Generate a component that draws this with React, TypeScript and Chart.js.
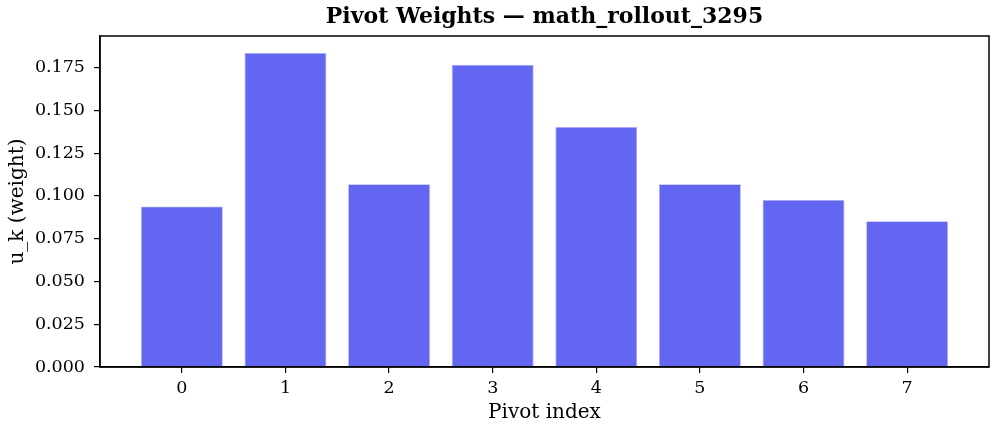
import React, { useEffect, useRef } from "react";
import { Chart, registerables } from "chart.js";

Chart.register(...registerables);

const pivotIndex: number[] = [0, 1, 2, 3, 4, 5, 6, 7];
const weights: number[] = [0.0939, 0.1835, 0.1068, 0.1767, 0.1403, 0.1068, 0.0976, 0.0852];
const yTicks: number[] = [0, 0.025, 0.05, 0.075, 0.1, 0.125, 0.15, 0.175];
const chartTitle = "Pivot Weights — math_rollout_3295";

const FONT = "'DejaVu Serif', serif";

const frame = {
  id: "frame",
  afterDatasetsDraw(chart: any) {
    const { ctx, chartArea } = chart;
    ctx.save();
    ctx.strokeStyle = "#000";
    ctx.lineWidth = 1.5;
    ctx.strokeRect(chartArea.left, chartArea.top, chartArea.right - chartArea.left, chartArea.bottom - chartArea.top);
    ctx.restore();
  },
  afterDraw(chart: any) {
    const { ctx, chartArea } = chart;
    ctx.save();
    ctx.fillStyle = "#000";
    ctx.font = `bold 22px ${FONT}`;
    ctx.textAlign = "center";
    ctx.textBaseline = "middle";
    ctx.fillText(chartTitle, (chartArea.left + chartArea.right) / 2, 17.5);
    ctx.restore();
  },
};

export default function App() {
  const ref = useRef<HTMLCanvasElement | null>(null);
  useEffect(() => {
    if (!ref.current) return;
    const chart = new Chart(ref.current, {
      type: "bar",
      data: {
        datasets: [
          {
            data: pivotIndex.map((x, i) => ({ x, y: weights[i] })),
            backgroundColor: "#6366f1",
            borderColor: "rgba(170,172,248,1)",
            borderWidth: 0.8,
            barPercentage: 0.79,
            categoryPercentage: 1,
          },
        ],
      },
      options: {
        animation: false,
        responsive: false,
        maintainAspectRatio: false,
        layout: { padding: { left: 0, right: 8, top: 36, bottom: 0 } },
        plugins: {
          legend: { display: false },
          tooltip: { enabled: false },
          title: { display: false },
        },
        scales: {
          x: {
            type: "linear",
            offset: false,
            min: -0.79,
            max: 7.79,
            afterBuildTicks: (scale: any) => {
              scale.ticks = pivotIndex.map((v) => ({ value: v }));
            },
            afterFit: (scale: any) => {
              scale.height = 66;
            },
            ticks: {
              color: "#000",
              font: { family: FONT, size: 17.5 },
              padding: 5,
              maxRotation: 0,
              autoSkip: false,
              callback: (v: any) => String(v),
            },
            grid: { display: true, offset: false, drawOnChartArea: false, drawTicks: true, tickLength: 6, color: "#000", lineWidth: 1.2 },
            border: { display: true, color: "#000", width: 1.5 },
            title: {
              display: true,
              text: "Pivot index",
              color: "#000",
              font: { family: FONT, size: 20, lineHeight: 1.2 },
              padding: { top: 0, bottom: 8 },
            },
          },
          y: {
            type: "linear",
            min: 0,
            max: 0.1935,
            afterBuildTicks: (scale: any) => {
              scale.ticks = yTicks.map((v) => ({ value: v }));
            },
            afterFit: (scale: any) => {
              scale.width = 100;
            },
            ticks: {
              color: "#000",
              font: { family: FONT, size: 17.5 },
              padding: 9,
              callback: (v: any) => Number(v).toFixed(3),
            },
            grid: { display: true, drawOnChartArea: false, drawTicks: true, tickLength: 6, color: "#000", lineWidth: 1.2 },
            border: { display: true, color: "#000", width: 1.5 },
            title: {
              display: true,
              text: "u_k (weight)",
              color: "#000",
              font: { family: FONT, size: 20, lineHeight: 1.2 },
              padding: { top: 6, bottom: 0 },
            },
          },
        },
      },
      plugins: [frame],
    } as any);
    return () => chart.destroy();
  }, []);
  return (
    <div style={{ position: "fixed", left: 0, top: 0, width: 997, height: 433, background: "#fff" }}>
      <canvas ref={ref} width={997} height={433} style={{ width: 997, height: 433, display: "block" }} />
    </div>
  );
}
